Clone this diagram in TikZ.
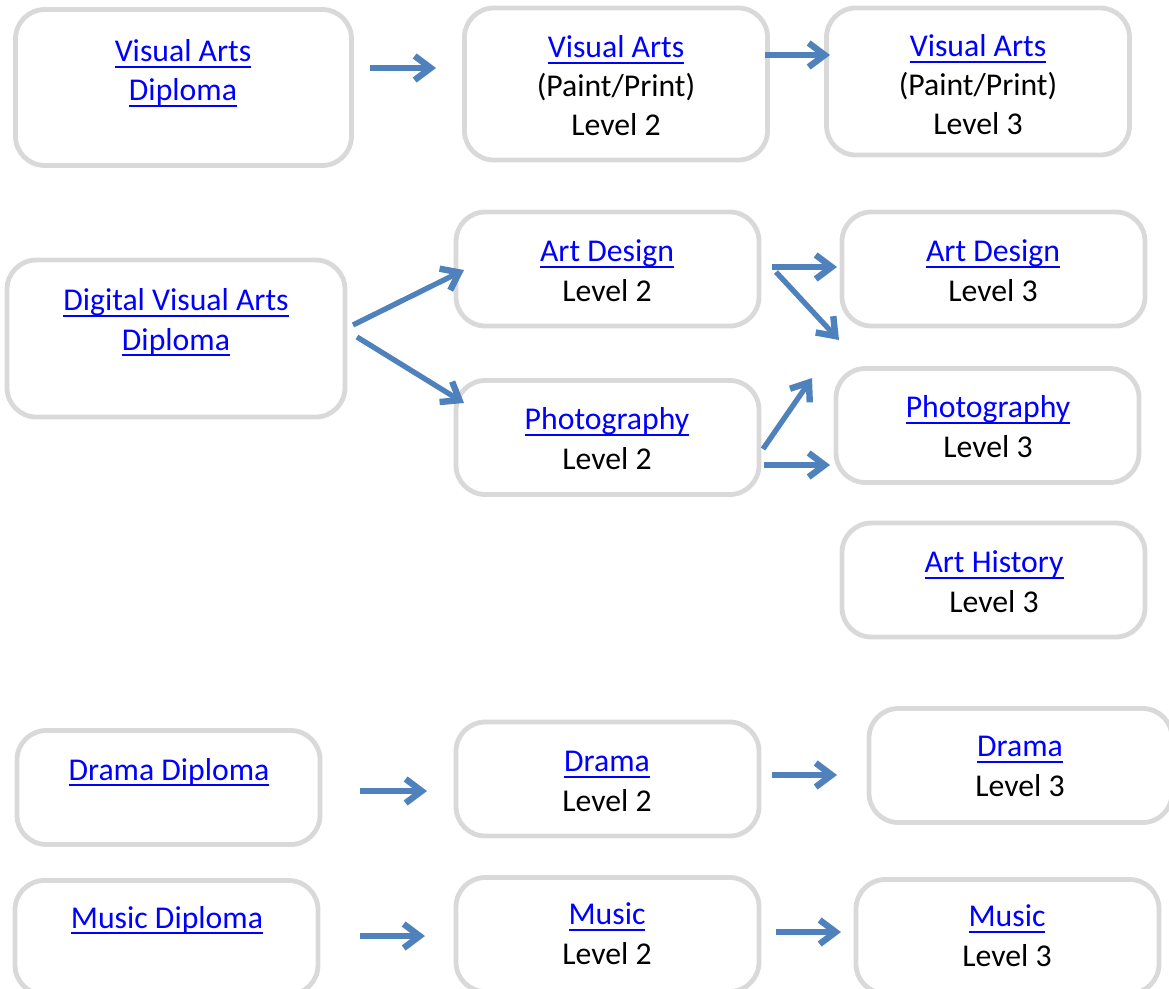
\documentclass[tikz,border=0pt]{standalone}
\usepackage{fontspec}
\setmainfont{Carlito}
\usetikzlibrary{arrows.meta}

\definecolor{linkblue}{HTML}{0000FF}
\definecolor{boxgray}{HTML}{D9D9D9}
\definecolor{flowblue}{HTML}{4F81BD}
\newlength{\lnkwd}
\newcommand{\lnk}[1]{\settowidth{\lnkwd}{#1}\textcolor{linkblue}{\rlap{#1}\rule[-4.6pt]{\lnkwd}{1.4pt}}}

\begin{document}
\begin{tikzpicture}[x=0.75pt, y=-0.75pt,
	box/.style={draw=boxgray, line width=3.6pt, rounded corners=22pt, minimum width=227.25pt, minimum height=85.5pt, inner sep=0pt},
	bigbox/.style={box, minimum width=252pt, minimum height=117pt},
	txt/.style={align=center, inner sep=0pt, anchor=base, font=\fontsize{23.8}{29.3}\selectfont},
	flow/.style={draw=flowblue, line width=4pt, -{Straight Barb[length=12pt, width=18pt, line width=4.8pt]}}]
	\useasboundingbox (0,0) rectangle (1169,988);
	
	% boxes
	\node[bigbox] (vadbox) at (183.5,87.5) {};
	\node[box, minimum height=114pt] (va2box) at (616,84) {};
	\node[box, minimum height=110.25pt] (va3box) at (978,81.5) {};
	\node[bigbox, minimum width=253.5pt, minimum height=117.75pt] (dvadbox) at (176,338.5) {};
	\node[box] (ad2box) at (607.5,269) {};
	\node[box] (ad3box) at (993.5,269) {};
	\node[box] (ph2box) at (607.5,437.5) {};
	\node[box] (ph3box) at (987.5,425.5) {};
	\node[box] (ah3box) at (993.5,580) {};
	\node[box] (ddbox) at (168.5,787.5) {};
	\node[box] (dr2box) at (607.5,779) {};
	\node[box] (dr3box) at (1020.5,765.5) {};
	\node[box] (mdbox) at (166.5,937.5) {};
	\node[box] (mu2box) at (607.5,934.5) {};
	\node[box] (mu3box) at (1007.5,936.5) {};
	
	% texts (placed at the baseline of the last line)
	\node[txt] (vad) at (183,101) {\lnk{Visual Arts}\\\lnk{Diploma}};
	\node[txt] (va2) at (616,136) {\lnk{Visual Arts}\\(Paint/Print)\\Level 2};
	\node[txt] (va3) at (978,135) {\lnk{Visual Arts}\\(Paint/Print)\\Level 3};
	\node[txt] (dvad) at (176,350) {\lnk{Digital Visual Arts}\\\lnk{Diploma}};
	\node[txt] (ad2) at (607,301) {\lnk{Art Design}\\Level 2};
	\node[txt] (ad3) at (993,301) {\lnk{Art Design}\\Level 3};
	\node[txt] (ph2) at (607,469) {\lnk{Photography}\\Level 2};
	\node[txt] (ph3) at (988,457) {\lnk{Photography}\\Level 3};
	\node[txt] (ah3) at (994,612) {\lnk{Art History}\\Level 3};
	\node[txt] (dd) at (169,780) {\lnk{Drama Diploma}};
	\node[txt] (dr2) at (607,811) {\lnk{Drama}\\Level 2};
	\node[txt] (dr3) at (1020,796) {\lnk{Drama}\\Level 3};
	\node[txt] (md) at (167,928) {\lnk{Music Diploma}};
	\node[txt] (mu2) at (607,964) {\lnk{Music}\\Level 2};
	\node[txt] (mu3) at (1007,966) {\lnk{Music}\\Level 3};
	
	% arrows
	\foreach \n/\xa/\ya/\xb/\yb in {1/370/68/436/68, 2/765/55/830/55, 3/353/325/464/270, 4/357/337/464/403,
		5/772/267/837/267, 6/776/272/839/340, 7/763/449/812/378, 8/764/465/830/465,
		9/360/791/427/791, 10/772/775/837/775, 11/360/936/425/936, 12/776/932/841/932}
	{
		\coordinate (f\n s) at (\xa,\ya);
		\coordinate (f\n e) at (\xb,\yb);
		\draw[flow] (f\n s) -- (f\n e);
	}
\end{tikzpicture}
\end{document}
